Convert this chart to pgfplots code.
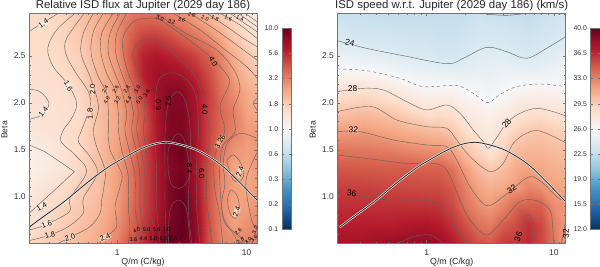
\documentclass[border=0pt]{standalone}
\usepackage{pgfplots}
\pgfplotsset{compat=1.18}
\usepackage{fontspec}
\setmainfont{Liberation Sans}
\definecolor{axc}{gray}{0.45}
\pgfplotsset{colormap={rdbu}{rgb255=(5,48,97) rgb255=(33,102,172) rgb255=(67,147,195) rgb255=(146,197,222) rgb255=(209,229,240) rgb255=(247,247,247) rgb255=(253,219,199) rgb255=(244,165,130) rgb255=(214,96,77) rgb255=(178,24,43) rgb255=(103,0,31)}}
\newcommand\myft{\fontsize{8.4}{9}\selectfont}
\newcommand\myfb{\fontsize{6.9}{8}\selectfont}
\newcommand\ctr[2][]{\addplot[mark=none,line width=0.42pt,color=black!62,smooth,tension=0.55,#1] table[row sep=\\]{x y\\#2};}
\newcommand\myfl{\fontsize{7.4}{8}\selectfont}
\newcommand\myfc{\fontsize{5.4}{6}\selectfont}
\newcommand\myfr{\fontsize{8.4}{9}\selectfont}
\newcommand\lab[5]{\node[font=\myfl,inner sep=0.2pt,rotate=#3,fill=#4,text=black] at ({(#1)/3*1pt},{(801-#2)/3*1pt}) {#5};}
\newcommand\mylas[5]{\node[font=\myfc,inner sep=0.1pt,rotate=#3,text=black] at ({(#1)/3*1pt},{(801-#2)/3*1pt}) {#5};}
\newcommand\labr[5]{\node[font=\myfr,inner sep=0.2pt,rotate=#3,#4,text=black] at ({(#1)/3*1pt+300pt},{(801-#2)/3*1pt}) {#5};}
\definecolor{h1}{HTML}{FAEBE3}\definecolor{h2}{HTML}{F8D3BE}\definecolor{h3}{HTML}{EDA285}
\begin{document}
\begin{tikzpicture}
\path[use as bounding box] (0,0) rectangle (600pt,267pt);
% ---------- left panel (x = log10 of Q/m)
\begin{axis}[scale only axis, width=228pt, height=230pt, xmin=-0.683, xmax=1.08, ymin=0.502, ymax=2.955,
    axis on top, axis line style={axc,line width=0.5pt}, tick style={axc,line width=0.4pt},
    tick label style={font=\myft,black!80}, xticklabel style={yshift=-2.5pt},
    tick align=inside, major tick length=3pt, minor tick length=1.6pt,
    xtick={0,1}, xticklabels={1,10}, minor xtick={-0.699,-0.523,-0.398,-0.301,-0.222,-0.155,-0.097,-0.046,0.301,0.477,0.602,0.699,0.778,0.845,0.903,0.954,1.041,1.079},
    ytick={0.5,1,1.5,2,2.5}, yticklabels={0.5,1.0,1.5,2.0,2.5}, minor y tick num=4,
    colormap name=rdbu, at={(29pt,23.7pt)}, anchor=south west]
\addplot[surf,shader=interp,mesh/rows=13,mesh/cols=16,point meta=explicit,point meta min=-1,point meta max=1]
 table[meta expr={log10(\thisrow{f})},row sep=\\]{x y f\\
-0.71 0.5 1.6\\-0.5 0.5 1.85\\-0.3 0.5 2.1\\-0.15 0.5 2.4\\0 0.5 3.2\\0.1 0.5 4.2\\0.2 0.5 5.5\\0.3 0.5 8\\0.4 0.5 10\\0.5 0.5 10\\0.6 0.5 8\\0.7 0.5 4.5\\0.8 0.5 3.2\\0.9 0.5 3\\1 0.5 3.2\\1.1 0.5 3.3\\
-0.71 0.7 1.45\\-0.5 0.7 1.7\\-0.3 0.7 1.95\\-0.15 0.7 2.25\\0 0.7 2.9\\0.1 0.7 3.7\\0.2 0.7 5\\0.3 0.7 6.5\\0.4 0.7 9\\0.5 0.7 10\\0.6 0.7 8\\0.7 0.7 4.5\\0.8 0.7 3.1\\0.9 0.7 2.6\\1 0.7 2.9\\1.1 0.7 3.2\\
-0.71 0.9 1.35\\-0.5 0.9 1.6\\-0.3 0.9 1.85\\-0.15 0.9 2.1\\0 0.9 2.7\\0.1 0.9 3.5\\0.2 0.9 4.6\\0.3 0.9 6.2\\0.4 0.9 8.5\\0.5 0.9 10\\0.6 0.9 7.5\\0.7 0.9 4.4\\0.8 0.9 3\\0.9 0.9 2.5\\1 0.9 2.6\\1.1 0.9 2.9\\
-0.71 1.1 1.2\\-0.5 1.1 1.45\\-0.3 1.1 1.75\\-0.15 1.1 2\\0 1.1 2.6\\0.1 1.1 3.4\\0.2 1.1 4.6\\0.3 1.1 6.2\\0.4 1.1 8.5\\0.5 1.1 9.5\\0.6 1.1 7\\0.7 1.1 4.4\\0.8 1.1 3\\0.9 1.1 2.6\\1 1.1 2.5\\1.1 1.1 2.7\\
-0.71 1.3 1.1\\-0.5 1.3 1.25\\-0.3 1.3 1.65\\-0.15 1.3 2\\0 1.3 2.6\\0.1 1.3 3.4\\0.2 1.3 4.6\\0.3 1.3 6.2\\0.4 1.3 8.2\\0.5 1.3 9\\0.6 1.3 6.8\\0.7 1.3 4.5\\0.8 1.3 3.1\\0.9 1.3 2.45\\1 1.3 2.5\\1.1 1.3 2.8\\
-0.71 1.5 1.15\\-0.5 1.5 1.3\\-0.3 1.5 1.6\\-0.15 1.5 2\\0 1.5 2.6\\0.1 1.5 3.3\\0.2 1.5 4.5\\0.3 1.5 6.5\\0.4 1.5 8.8\\0.5 1.5 9.5\\0.6 1.5 7\\0.7 1.5 4.7\\0.8 1.5 3.4\\0.9 1.5 2.8\\1 1.5 2.6\\1.1 1.5 2.8\\
-0.71 1.7 1.3\\-0.5 1.7 1.4\\-0.3 1.7 1.6\\-0.15 1.7 2\\0 1.7 2.5\\0.1 1.7 3.2\\0.2 1.7 4.3\\0.3 1.7 6.3\\0.4 1.7 8.5\\0.5 1.7 8.8\\0.6 1.7 6.8\\0.7 1.7 4.8\\0.8 1.7 3.7\\0.9 1.7 3.2\\1 1.7 2.7\\1.1 1.7 2.7\\
-0.71 1.9 1.4\\-0.5 1.9 1.4\\-0.3 1.9 1.55\\-0.15 1.9 2\\0 1.9 2.5\\0.1 1.9 3.2\\0.2 1.9 4.3\\0.3 1.9 6.5\\0.4 1.9 8.5\\0.5 1.9 8.6\\0.6 1.9 6.8\\0.7 1.9 4.9\\0.8 1.9 3.8\\0.9 1.9 3.2\\1 1.9 2.5\\1.1 1.9 2.3\\
-0.71 2.1 1.45\\-0.5 2.1 1.45\\-0.3 2.1 1.6\\-0.15 2.1 2.05\\0 2.1 2.6\\0.1 2.1 3.4\\0.2 2.1 5\\0.3 2.1 7\\0.4 2.1 8.2\\0.5 2.1 8.2\\0.6 2.1 6.6\\0.7 2.1 5\\0.8 2.1 3.6\\0.9 2.1 2.9\\1 2.1 2.4\\1.1 2.1 2.2\\
-0.71 2.3 1.45\\-0.5 2.3 1.5\\-0.3 2.3 1.7\\-0.15 2.3 2.15\\0 2.3 2.7\\0.1 2.3 3.9\\0.2 2.3 6\\0.3 2.3 7\\0.4 2.3 7.2\\0.5 2.3 7\\0.6 2.3 5.8\\0.7 2.3 4.6\\0.8 2.3 3.4\\0.9 2.3 2.6\\1 2.3 2.1\\1.1 2.3 1.9\\
-0.71 2.5 1.5\\-0.5 2.5 1.55\\-0.3 2.5 1.75\\-0.15 2.5 2.2\\0 2.5 2.8\\0.1 2.5 4.2\\0.2 2.5 6\\0.3 2.5 6.5\\0.4 2.5 6\\0.5 2.5 5.4\\0.6 2.5 4.8\\0.7 2.5 4\\0.8 2.5 3.1\\0.9 2.5 2.3\\1 2.5 1.9\\1.1 2.5 1.7\\
-0.71 2.7 1.55\\-0.5 2.7 1.6\\-0.3 2.7 1.85\\-0.15 2.7 2.3\\0 2.7 2.9\\0.1 2.7 3.9\\0.2 2.7 4.8\\0.3 2.7 5\\0.4 2.7 4.6\\0.5 2.7 4\\0.6 2.7 3.5\\0.7 2.7 3\\0.8 2.7 2.4\\0.9 2.7 1.9\\1 2.7 1.6\\1.1 2.7 1.45\\
-0.71 2.96 1.5\\-0.5 2.96 1.6\\-0.3 2.96 1.9\\-0.15 2.96 2.3\\0 2.96 2.8\\0.1 2.96 3.3\\0.2 2.96 3.5\\0.3 2.96 3.4\\0.4 2.96 3.1\\0.5 2.96 2.8\\0.6 2.96 2.5\\0.7 2.96 2.1\\0.8 2.96 1.8\\0.9 2.96 1.5\\1 2.96 1.3\\1.1 2.96 1.2\\
};
\ctr{-0.683 2.759\\-0.585 2.848\\-0.456 2.955\\}
\ctr{-0.683 2.144\\-0.598 2.119\\-0.528 1.995\\-0.585 1.870\\-0.683 1.824\\}
\ctr[sharp plot]{-0.683 1.551\\-0.559 1.479\\-0.332 1.266\\-0.456 1.106\\-0.683 0.822\\}
\ctr{-0.327 2.955\\-0.469 2.777\\-0.538 2.581\\-0.495 2.386\\-0.379 2.190\\-0.314 1.995\\-0.353 1.835\\-0.417 1.710\\-0.435 1.586\\-0.327 1.444\\-0.237 1.266\\-0.366 0.982\\-0.371 0.839\\-0.559 0.697\\-0.683 0.644\\}
\ctr{-0.255 2.955\\-0.392 2.688\\-0.399 2.528\\-0.327 2.333\\-0.224 2.119\\-0.211 1.959\\-0.276 1.710\\-0.301 1.586\\-0.211 1.426\\-0.154 1.248\\-0.263 0.982\\-0.263 0.822\\-0.379 0.680\\-0.520 0.591\\-0.683 0.530\\}
\ctr{-0.185 2.955\\-0.263 2.741\\-0.281 2.528\\-0.211 2.279\\-0.160 2.066\\-0.147 1.924\\-0.185 1.710\\-0.160 1.533\\-0.095 1.284\\-0.103 1.106\\-0.121 0.964\\-0.134 0.822\\-0.211 0.680\\-0.366 0.566\\-0.456 0.502\\}
\ctr{-0.108 2.955\\-0.185 2.759\\-0.203 2.528\\-0.147 2.279\\-0.082 2.101\\-0.069 1.888\\-0.069 1.710\\-0.056 1.497\\0.034 1.248\\0.021 1.106\\-0.018 0.893\\-0.005 0.680\\-0.095 0.566\\-0.139 0.502\\}
\ctr{-0.031 2.955\\-0.121 2.741\\-0.126 2.528\\-0.082 2.312\\-0.018 2.133\\0.008 1.888\\0.008 1.710\\0.034 1.497\\0.085 1.213\\0.085 0.893\\0.098 0.680\\0.085 0.502\\}
\ctr{0.021 2.955\\-0.056 2.741\\-0.069 2.528\\-0.018 2.312\\0.034 2.133\\0.072 1.888\\0.059 1.710\\0.098 1.462\\0.137 1.213\\0.137 0.893\\0.155 0.680\\0.137 0.502\\}
\ctr{0.072 2.955\\-0.005 2.741\\-0.013 2.528\\0.034 2.312\\0.085 2.133\\0.124 1.888\\0.111 1.710\\0.150 1.462\\0.175 1.213\\0.175 0.893\\0.196 0.680\\0.188 0.502\\}
\ctr{0.227 0.502\\0.240 0.680\\0.214 0.893\\0.214 1.213\\0.188 1.462\\0.150 1.710\\0.162 1.888\\0.137 2.137\\0.085 2.315\\0.046 2.528\\0.046 2.706\\0.124 2.866\\0.227 2.901\\0.330 2.884\\0.485 2.741\\0.717 2.492\\0.858 2.279\\0.858 2.172\\0.794 1.959\\0.832 1.710\\0.781 1.568\\0.747 1.355\\0.755 1.071\\0.794 0.786\\0.814 0.502\\}
\ctr{0.266 0.502\\0.279 0.680\\0.253 0.893\\0.253 1.213\\0.227 1.462\\0.201 1.710\\0.214 1.888\\0.201 2.101\\0.162 2.312\\0.119 2.528\\0.175 2.653\\0.253 2.678\\0.304 2.670\\0.433 2.528\\0.588 2.312\\0.652 2.101\\0.678 1.924\\0.717 1.710\\0.691 1.355\\0.691 0.964\\0.717 0.680\\0.730 0.502\\}
\ctr{0.330 0.502\\0.304 0.893\\0.304 1.249\\0.291 1.710\\0.304 2.170\\0.356 2.295\\0.459 2.315\\0.562 2.208\\0.614 2.031\\0.627 1.710\\0.614 1.355\\0.614 0.893\\0.639 0.502\\}
\ctr{0.381 0.502\\0.369 0.893\\0.369 1.249\\0.369 1.675\\0.395 1.995\\0.459 2.117\\0.523 2.031\\0.562 1.746\\0.562 1.355\\0.549 0.893\\0.575 0.502\\}
\ctr{0.395 1.249\\0.395 1.497\\0.459 1.668\\0.523 1.586\\0.557 1.249\\0.523 1.124\\0.472 1.088\\0.421 1.124\\0.395 1.249\\}
\ctr{0.395 0.502\\0.407 0.858\\0.472 0.964\\0.536 0.858\\0.562 0.502\\}
\ctr{0.304 2.955\\0.510 2.757\\0.768 2.564\\0.910 2.333\\0.948 2.137\\0.896 1.924\\0.910 1.693\\0.819 1.551\\0.794 1.355\\0.794 1.106\\0.819 0.786\\0.910 0.573\\0.923 0.502\\}
\ctr{1.077 1.622\\0.948 1.675\\0.850 1.568\\0.819 1.355\\0.832 1.142\\0.807 0.929\\0.832 0.715\\0.948 0.573\\0.974 0.502\\}
\ctr{1.077 1.462\\1.0 1.213\\1.0 1.035\\1.039 0.750\\1.077 0.644\\}
\ctr{0.433 2.955\\0.639 2.777\\0.819 2.581\\1.0 2.386\\1.08 2.261\\}
\ctr{0.562 2.955\\0.743 2.795\\0.923 2.617\\1.08 2.457\\}
\ctr{0.691 2.955\\0.845 2.813\\0.974 2.688\\1.08 2.599\\}
\ctr{0.794 2.955\\0.948 2.830\\1.08 2.688\\}
\ctr{0.871 2.955\\1.08 2.759\\}
\ctr{0.935 2.955\\1.08 2.813\\}
\ctr{0.987 2.955\\1.08 2.866\\}
\ctr{1.08 2.048\\1.051 1.995\\1.08 1.924\\}
\ctr{0.858 1.319\\0.850 1.391\\0.896 1.444\\0.948 1.373\\0.979 1.248\\0.948 1.160\\0.896 1.177\\0.858 1.319\\}
\ctr{0.850 0.964\\0.876 1.071\\0.923 1.017\\0.943 0.893\\0.917 0.768\\0.871 0.822\\0.850 0.964\\}
\ctr[line width=2.1pt,color=white!90!black]{-0.683 0.673\\-0.572 0.786\\-0.456 0.900\\-0.379 0.982\\-0.276 1.100\\-0.173 1.213\\-0.057 1.327\\0.059 1.419\\0.175 1.505\\0.278 1.558\\0.381 1.579\\0.497 1.551\\0.614 1.497\\0.717 1.419\\0.819 1.320\\0.948 1.149\\1.08 0.964\\1.10 0.94\\}
\ctr[line width=0.75pt,color=black!85]{-0.683 0.673\\-0.572 0.786\\-0.456 0.900\\-0.379 0.982\\-0.276 1.100\\-0.173 1.213\\-0.057 1.327\\0.059 1.419\\0.175 1.505\\0.278 1.558\\0.381 1.579\\0.497 1.551\\0.614 1.497\\0.717 1.419\\0.819 1.320\\0.948 1.149\\1.08 0.964\\1.10 0.94\\}
\end{axis}
% ---------- right panel (x = log10 of Q/m)
\begin{axis}[scale only axis, width=228.3pt, height=230pt, xmin=-0.702, xmax=1.092, ymin=0.502, ymax=2.955,
    axis on top, axis line style={axc,line width=0.5pt}, tick style={axc,line width=0.4pt},
    tick label style={font=\myft,black!80}, xticklabel style={yshift=-2.5pt},
    tick align=inside, major tick length=3pt, minor tick length=1.6pt,
    xtick={0,1}, xticklabels={1,10}, minor xtick={-0.699,-0.523,-0.398,-0.301,-0.222,-0.155,-0.097,-0.046,0.301,0.477,0.602,0.699,0.778,0.845,0.903,0.954,1.041,1.079},
    ytick={0.5,1,1.5,2,2.5}, yticklabels={0.5,1.0,1.5,2.0,2.5}, minor y tick num=4,
    colormap name=rdbu, at={(337.3pt,23.7pt)}, anchor=south west]
\addplot[surf,shader=interp,mesh/rows=13,mesh/cols=16,point meta=explicit,point meta min=12,point meta max=40]
 table[meta=v,row sep=\\]{x y v\\
-0.71 0.5 37.6\\-0.5 0.5 37.7\\-0.3 0.5 38.1\\-0.15 0.5 38.3\\0 0.5 38.5\\0.1 0.5 38.1\\0.2 0.5 37.2\\0.3 0.5 36.1\\0.4 0.5 35\\0.5 0.5 34.6\\0.6 0.5 35.8\\0.7 0.5 36.1\\0.8 0.5 36.5\\0.9 0.5 35.4\\1 0.5 33.4\\1.1 0.5 31.8\\
-0.71 0.7 37\\-0.5 0.7 37\\-0.3 0.7 37\\-0.15 0.7 37.3\\0 0.7 37.4\\0.1 0.7 37.1\\0.2 0.7 36.2\\0.3 0.7 35\\0.4 0.7 33.7\\0.5 0.7 33.3\\0.6 0.7 34.5\\0.7 0.7 35.2\\0.8 0.7 36.3\\0.9 0.7 35.3\\1 0.7 33.2\\1.1 0.7 32\\
-0.71 0.9 36.3\\-0.5 0.9 36.3\\-0.3 0.9 36.2\\-0.15 0.9 36.2\\0 0.9 36.2\\0.1 0.9 36.1\\0.2 0.9 35.3\\0.3 0.9 33.7\\0.4 0.9 32.6\\0.5 0.9 32\\0.6 0.9 32.9\\0.7 0.9 34.2\\0.8 0.9 34.4\\0.9 0.9 34.4\\1 0.9 32.6\\1.1 0.9 32.1\\
-0.71 1.1 35.7\\-0.5 1.1 35.6\\-0.3 1.1 35.4\\-0.15 1.1 35.3\\0 1.1 35.2\\0.1 1.1 35.2\\0.2 1.1 34.6\\0.3 1.1 33\\0.4 1.1 31.6\\0.5 1.1 31\\0.6 1.1 31.4\\0.7 1.1 32\\0.8 1.1 32.8\\0.9 1.1 32.4\\1 1.1 31.7\\1.1 1.1 31.5\\
-0.71 1.3 34.7\\-0.5 1.3 34.6\\-0.3 1.3 34.5\\-0.15 1.3 34.5\\0 1.3 34.3\\0.1 1.3 34.3\\0.2 1.3 33.6\\0.3 1.3 31.9\\0.4 1.3 30.5\\0.5 1.3 29.7\\0.6 1.3 30.3\\0.7 1.3 31.3\\0.8 1.3 31.6\\0.9 1.3 31.4\\1 1.3 31\\1.1 1.3 30.8\\
-0.71 1.5 33.6\\-0.5 1.5 33.4\\-0.3 1.5 33.2\\-0.15 1.5 32.8\\0 1.5 32.5\\0.1 1.5 32.4\\0.2 1.5 31.8\\0.3 1.5 30\\0.4 1.5 29\\0.5 1.5 28\\0.6 1.5 29.2\\0.7 1.5 30.4\\0.8 1.5 30.7\\0.9 1.5 30.7\\1 1.5 30.4\\1.1 1.5 30.2\\
-0.71 1.7 32\\-0.5 1.7 32\\-0.3 1.7 31.5\\-0.15 1.7 31\\0 1.7 30.5\\0.1 1.7 30.4\\0.2 1.7 29.8\\0.3 1.7 28.7\\0.4 1.7 27.8\\0.5 1.7 27.3\\0.6 1.7 28.3\\0.7 1.7 29.3\\0.8 1.7 29.8\\0.9 1.7 30\\1 1.7 29.5\\1.1 1.7 29.2\\
-0.71 1.9 30\\-0.5 1.9 30.4\\-0.3 1.9 29.9\\-0.15 1.9 29.1\\0 1.9 28.3\\0.1 1.9 28.5\\0.2 1.9 28.3\\0.3 1.9 27.3\\0.4 1.9 27\\0.5 1.9 26.5\\0.6 1.9 27\\0.7 1.9 27.8\\0.8 1.9 28.2\\0.9 1.9 28.3\\1 1.9 28\\1.1 1.9 27.8\\
-0.71 2.1 28.2\\-0.5 2.1 28.6\\-0.3 2.1 28\\-0.15 2.1 27.2\\0 2.1 26.6\\0.1 2.1 26.7\\0.2 2.1 26.7\\0.3 2.1 26.2\\0.4 2.1 26\\0.5 2.1 25.6\\0.6 2.1 26\\0.7 2.1 26.6\\0.8 2.1 26.7\\0.9 2.1 26.8\\1 2.1 26.7\\1.1 2.1 26.5\\
-0.71 2.3 26.5\\-0.5 2.3 26.5\\-0.3 2.3 26\\-0.15 2.3 25.5\\0 2.3 25.2\\0.1 2.3 25.1\\0.2 2.3 25.1\\0.3 2.3 25\\0.4 2.3 25.1\\0.5 2.3 25\\0.6 2.3 25.2\\0.7 2.3 25.3\\0.8 2.3 25.3\\0.9 2.3 25.3\\1 2.3 25.5\\1.1 2.3 25.6\\
-0.71 2.5 25\\-0.5 2.5 24.7\\-0.3 2.5 24.4\\-0.15 2.5 24\\0 2.5 23.8\\0.1 2.5 23.5\\0.2 2.5 23.5\\0.3 2.5 23.8\\0.4 2.5 24.3\\0.5 2.5 24.4\\0.6 2.5 24.3\\0.7 2.5 24\\0.8 2.5 23.8\\0.9 2.5 24\\1 2.5 24.5\\1.1 2.5 24.8\\
-0.71 2.7 23.8\\-0.5 2.7 23.4\\-0.3 2.7 23.3\\-0.15 2.7 23.2\\0 2.7 23.1\\0.1 2.7 23\\0.2 2.7 23\\0.3 2.7 23.2\\0.4 2.7 23.5\\0.5 2.7 23.6\\0.6 2.7 23.5\\0.7 2.7 23.3\\0.8 2.7 23.2\\0.9 2.7 23.4\\1 2.7 23.6\\1.1 2.7 24\\
-0.71 2.96 22.8\\-0.5 2.96 22.7\\-0.3 2.96 22.6\\-0.15 2.96 22.6\\0 2.96 22.6\\0.1 2.96 22.6\\0.2 2.96 22.6\\0.3 2.96 22.7\\0.4 2.96 23\\0.5 2.96 22.8\\0.6 2.96 22.8\\0.7 2.96 22.7\\0.8 2.96 22.5\\0.9 2.96 22.8\\1 2.96 23\\1.1 2.96 23.2\\
};
\ctr{-0.702 2.663\\-0.471 2.581\\-0.209 2.510\\0.157 2.418\\0.288 2.475\\0.471 2.592\\0.628 2.546\\0.785 2.475\\0.942 2.581\\1.092 2.706\\}
\ctr{0.458 2.948\\0.628 2.933\\0.785 2.955\\}
\ctr[dashed]{-0.702 2.361\\-0.471 2.343\\-0.209 2.261\\-0.026 2.173\\0.235 2.184\\0.366 2.102\\0.479 2.000\\0.576 2.089\\0.707 2.173\\0.890 2.201\\1.092 2.173\\}
\ctr{-0.702 2.119\\-0.498 2.155\\-0.340 2.137\\-0.157 2.013\\0 1.924\\0.157 1.977\\0.262 1.888\\0.366 1.711\\0.445 1.586\\0.484 1.515\\0.537 1.604\\0.628 1.782\\0.733 1.888\\0.864 1.942\\0.995 1.906\\1.092 1.860\\}
\ctr{-0.702 1.906\\-0.432 1.960\\-0.236 1.818\\0 1.746\\0.157 1.729\\0.236 1.604\\0.340 1.427\\0.497 1.267\\0.602 1.355\\0.681 1.569\\0.785 1.675\\0.890 1.700\\1.092 1.576\\}
\ctr{-0.702 1.693\\-0.524 1.693\\-0.262 1.604\\0 1.551\\0.157 1.533\\0.236 1.391\\0.340 1.107\\0.471 0.904\\0.602 1.0\\0.681 1.089\\0.812 1.213\\0.916 1.142\\1.021 1.0\\1.092 0.947\\}
\ctr{-0.702 1.444\\-0.419 1.398\\-0.157 1.355\\0.052 1.355\\0.157 1.284\\0.262 0.964\\0.340 0.751\\0.471 0.591\\0.602 0.751\\0.733 0.947\\0.864 0.957\\0.969 0.858\\0.990 0.680\\0.995 0.502\\}
\ctr{-0.702 1.043\\-0.471 1.0\\-0.209 0.964\\0.052 0.947\\0.183 0.787\\0.236 0.645\\0.314 0.502\\}
\ctr{0.707 0.502\\0.754 0.680\\0.780 0.787\\0.812 0.805\\0.825 0.680\\0.838 0.502\\}
\ctr{-0.222 0.502\\-0.105 0.573\\0.026 0.591\\0.131 0.502\\}
\ctr{1.06 0.502\\1.092 0.716\\}
\ctr[line width=2.1pt,color=white!90!black]{-0.683 0.673\\-0.572 0.786\\-0.456 0.900\\-0.379 0.982\\-0.276 1.100\\-0.173 1.213\\-0.057 1.327\\0.059 1.419\\0.175 1.505\\0.278 1.558\\0.381 1.579\\0.497 1.551\\0.614 1.497\\0.717 1.419\\0.819 1.320\\0.948 1.149\\1.08 0.964\\1.10 0.94\\}
\ctr[line width=0.75pt,color=black!85]{-0.683 0.673\\-0.572 0.786\\-0.456 0.900\\-0.379 0.982\\-0.276 1.100\\-0.173 1.213\\-0.057 1.327\\0.059 1.419\\0.175 1.505\\0.278 1.558\\0.381 1.579\\0.497 1.551\\0.614 1.497\\0.717 1.419\\0.819 1.320\\0.948 1.149\\1.08 0.964\\1.10 0.94\\}
\end{axis}
% ---------- colour bars
\begin{axis}[scale only axis, width=9.5pt, height=201pt, xmin=0, xmax=1, ymin=-1, ymax=1,
    xtick=\empty, yticklabel pos=left, axis on top, axis line style={axc,line width=0.3pt},
    tick style={axc,line width=0.3pt}, tick align=inside, major tick length=2pt,
    tick label style={font=\myfb,black!80}, colormap name=rdbu,
    ytick={-1,-0.75,-0.5,-0.25,0,0.25,0.5,0.75,1}, yticklabels={0.1,0.2,0.3,0.6,1.0,1.8,3.2,5.6,10.0}, at={(281.7pt,37.7pt)}, anchor=south west]
\addplot[surf,shader=interp,mesh/cols=2,point meta=y,point meta min=-1,point meta max=1] table[row sep=\\]{x y\\0 -1\\1 -1\\0 -0.8\\1 -0.8\\0 -0.6\\1 -0.6\\0 -0.4\\1 -0.4\\0 -0.2\\1 -0.2\\0 0\\1 0\\0 0.2\\1 0.2\\0 0.4\\1 0.4\\0 0.6\\1 0.6\\0 0.8\\1 0.8\\0 1\\1 1\\};
\end{axis}
\begin{axis}[scale only axis, width=9.5pt, height=201pt, xmin=0, xmax=1, ymin=12, ymax=40,
    xtick=\empty, yticklabel pos=left, axis on top, axis line style={axc,line width=0.3pt},
    tick style={axc,line width=0.3pt}, tick align=inside, major tick length=2pt,
    tick label style={font=\myfb,black!80}, colormap name=rdbu,
    ytick={12,15.5,19,22.5,26,29.5,33,36.5,40}, yticklabels={12.0,15.5,19.0,22.5,26.0,29.5,33.0,36.5,40.0}, at={(590.5pt,37.7pt)}, anchor=south west]
\addplot[surf,shader=interp,mesh/cols=2,point meta=y,point meta min=12,point meta max=40] table[row sep=\\]{x y\\0 12\\1 12\\0 14.8\\1 14.8\\0 17.6\\1 17.6\\0 20.4\\1 20.4\\0 23.2\\1 23.2\\0 26\\1 26\\0 28.8\\1 28.8\\0 31.6\\1 31.6\\0 34.4\\1 34.4\\0 37.2\\1 37.2\\0 40\\1 40\\};
\end{axis}
% ---------- titles and axis labels
\node[font=\fontsize{11.4}{12}\selectfont,text=black!85] at (143pt,261.5pt) {Relative ISD flux at Jupiter (2029 day 186)};
\node[font=\fontsize{11.4}{12}\selectfont,text=black!85] at (451.7pt,261.5pt) {ISD speed w.r.t. Jupiter (2029 day 186) (km/s)};
\node[font=\fontsize{8.8}{10}\selectfont,text=black!85] at (143pt,5pt) {Q/m  (C/kg)};
\node[font=\fontsize{8.8}{10}\selectfont,text=black!85] at (451.7pt,5pt) {Q/m  (C/kg)};
\node[font=\fontsize{8.6}{10}\selectfont,text=black!85,rotate=90] at (4.5pt,137pt) {Beta};
\node[font=\fontsize{8.6}{10}\selectfont,text=black!85,rotate=90] at (312.7pt,137pt) {Beta};
% ---------- contour labels, left
\lab{130}{70}{35}{h1}{1.4}\lab{130}{335}{50}{h1}{1.4}\lab{205}{258}{-60}{h1}{1.6}\lab{125}{620}{30}{h1}{1.4}
\lab{140}{672}{20}{h1}{1.6}\lab{150}{705}{15}{h2}{1.8}\lab{210}{712}{15}{h2}{2.0}\lab{315}{712}{25}{h2}{2.4}
\lab{278}{268}{90}{h2}{2.0}\lab{270}{342}{90}{h2}{1.8}
\mylas{315}{268}{60}{h3}{2.4}\mylas{347}{268}{60}{h3}{2.6}\mylas{380}{268}{60}{h3}{2.8}\mylas{412}{268}{60}{h3}{3.0}\mylas{440}{280}{60}{h3}{3.6}
\mylas{320}{300}{60}{h3}{4.0}\mylas{352}{300}{60}{h3}{3.2}\mylas{385}{300}{60}{h3}{4.4}\mylas{418}{300}{60}{h3}{5.0}
\lab{475}{315}{90}{none}{6.0}\lab{505}{305}{90}{none}{7.5}\lab{615}{328}{-90}{none}{4.0}\lab{640}{185}{-60}{none}{4.0}
\lab{568}{505}{-90}{none}{8.4}\lab{605}{520}{-90}{none}{6.0}\lab{660}{425}{60}{h3}{3.26}\lab{720}{515}{70}{h2}{2.4}\lab{710}{635}{70}{h2}{2.4}
\mylas{480}{55}{-20}{none}{3.0}\mylas{515}{65}{-20}{none}{3.2}\mylas{545}{60}{-20}{none}{3.6}\mylas{575}{45}{-20}{none}{2.6}\mylas{615}{55}{-20}{none}{2.0}\mylas{645}{55}{-20}{none}{1.8}\mylas{685}{55}{-20}{none}{1.6}\mylas{720}{55}{-20}{none}{1.4}
\mylas{410}{690}{30}{none}{4.0}\mylas{440}{690}{0}{none}{5.0}\mylas{470}{688}{0}{none}{5.6}\mylas{500}{690}{0}{none}{7.0}
\mylas{400}{718}{0}{none}{3.6}\mylas{430}{716}{0}{none}{4.4}\mylas{460}{716}{0}{none}{5.0}\mylas{490}{716}{0}{none}{6.0}\mylas{520}{716}{0}{none}{7.5}
\mylas{715}{695}{45}{none}{2.6}\mylas{722}{722}{30}{none}{2.8}\mylas{745}{722}{45}{none}{3.0}\mylas{765}{690}{70}{none}{3.2}\mylas{762}{715}{45}{none}{3.6}
% ---------- contour labels, right
\definecolor{r1}{HTML}{DCEAF3}\definecolor{r2}{HTML}{F6E3D8}\definecolor{r3}{HTML}{F0B296}
\labr{150}{128}{-15}{fill=r1}{24}\labr{158}{265}{0}{fill=r2}{28}\labr{160}{390}{-5}{fill=r3}{32}\labr{155}{580}{-5}{}{36}
\labr{620}{370}{50}{fill=r2}{28}\labr{635}{568}{35}{}{32}\labr{655}{710}{70}{}{36}\labr{798}{700}{90}{}{32}
\end{tikzpicture}
\end{document}
